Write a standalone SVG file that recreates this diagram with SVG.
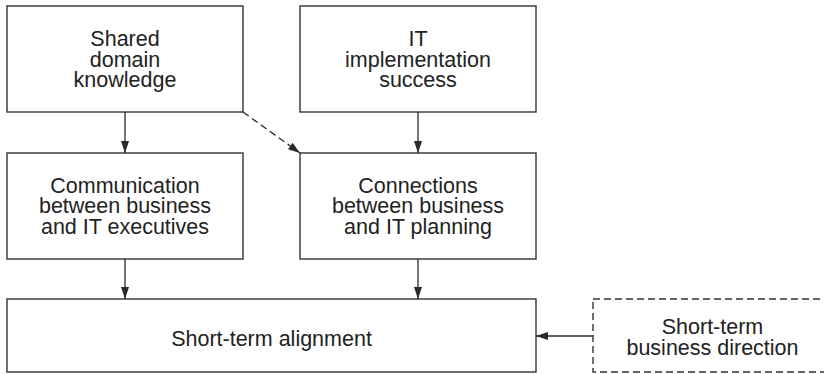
<svg xmlns="http://www.w3.org/2000/svg" width="824" height="374" viewBox="0 0 824 374">
  <defs>
    <marker id="arrow" viewBox="0 0 12 8" refX="12" refY="4" markerWidth="12" markerHeight="8" markerUnits="userSpaceOnUse" orient="auto">
      <path d="M0,0 L12,4 L0,8 Z" fill="#2a2a2a"/>
    </marker>
    <style>
      .box { fill: #ffffff; stroke: #333333; stroke-width: 1.4; }
      .dashed { stroke-dasharray: 7 4; }
      .label { font-family: "Liberation Sans", Arial, sans-serif; font-size: 21.5px; fill: #222222; text-anchor: middle; }
      .edge { fill: none; stroke: #2a2a2a; stroke-width: 1.3; marker-end: url(#arrow); }
    </style>
  </defs>
  <rect width="824" height="374" fill="#ffffff"/>

  <g id="shared-domain-knowledge">
    <rect class="box" x="7" y="6" width="236" height="106"/>
    <text class="label" x="125" y="46">Shared</text>
    <text class="label" x="125" y="66.5">domain</text>
    <text class="label" x="125" y="87">knowledge</text>
  </g>

  <g id="it-implementation-success">
    <rect class="box" x="300" y="6" width="236" height="106"/>
    <text class="label" x="418" y="46">IT</text>
    <text class="label" x="418" y="66.5">implementation</text>
    <text class="label" x="418" y="87">success</text>
  </g>

  <g id="communication">
    <rect class="box" x="7" y="153" width="236" height="106"/>
    <text class="label" x="125" y="192.5">Communication</text>
    <text class="label" x="125" y="213">between business</text>
    <text class="label" x="125" y="233.5">and IT executives</text>
  </g>

  <g id="connections">
    <rect class="box" x="300" y="153" width="236" height="106"/>
    <text class="label" x="418" y="192.5">Connections</text>
    <text class="label" x="418" y="213">between business</text>
    <text class="label" x="418" y="233.5">and IT planning</text>
  </g>

  <g id="short-term-alignment">
    <rect class="box" x="7" y="299" width="529" height="73"/>
    <text class="label" x="271.5" y="345.5">Short-term alignment</text>
  </g>

  <g id="short-term-business-direction">
    <rect class="box dashed" x="593" y="299" width="240" height="73"/>
    <text class="label" x="712.5" y="333.5">Short-term</text>
    <text class="label" x="712.5" y="354.5">business direction</text>
  </g>

  <g id="connectors">
    <line class="edge" x1="125" y1="112" x2="125" y2="153"/>
    <line class="edge" x1="418" y1="112" x2="418" y2="153"/>
    <line class="edge" x1="125" y1="259" x2="125" y2="299"/>
    <line class="edge" x1="418" y1="259" x2="418" y2="299"/>
    <line class="edge dashed" x1="243" y1="112" x2="300" y2="153"/>
    <line class="edge" x1="593" y1="336" x2="536" y2="336"/>
  </g>
</svg>
